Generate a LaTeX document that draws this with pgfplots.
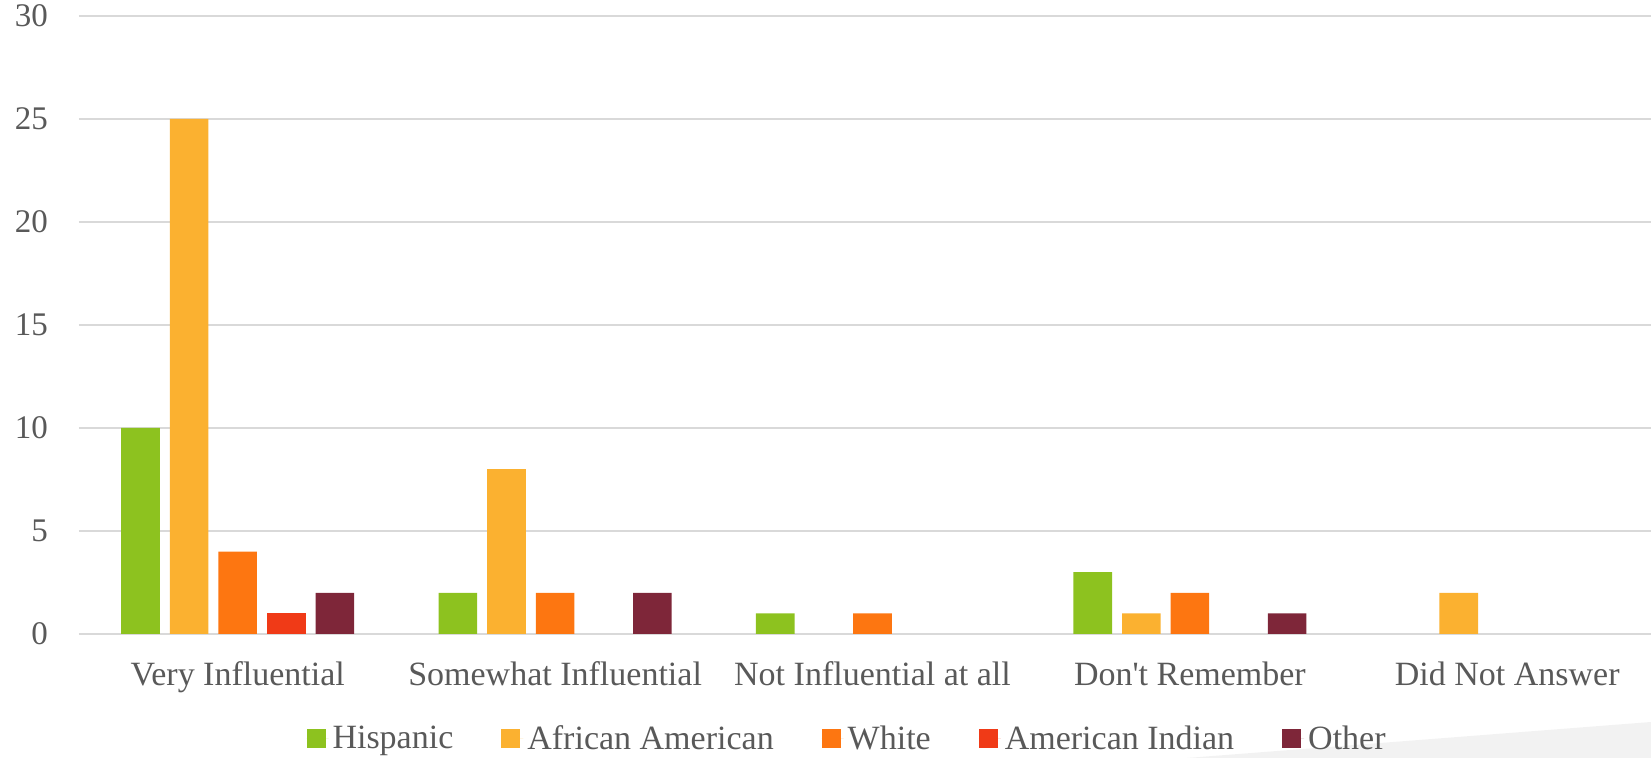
\documentclass[border=0pt]{standalone}
\usepackage{pgfplots}
\pgfplotsset{compat=1.18}
\usepackage{fontspec}
\setmainfont{Liberation Serif}
\definecolor{cH}{HTML}{8DC21F}
\definecolor{cAA}{HTML}{FBB130}
\definecolor{cW}{HTML}{FD7611}
\definecolor{cAI}{HTML}{F03A17}
\definecolor{cO}{HTML}{7E2639}
\definecolor{gridc}{HTML}{D9D9D9}
\definecolor{textc}{HTML}{595959}
\definecolor{deco}{HTML}{F2F2F2}
\begin{document}
\begin{tikzpicture}
\fill[deco] (554pt,-62pt) -- (786pt,-62pt) -- (786pt,-44pt) -- cycle;
\begin{axis}[
  width=793.5pt, height=309pt, scale only axis,
  xmin=-0.5, xmax=4.5, ymin=0, ymax=30,
  ybar=5pt, bar width=19.3pt,
  xtick={0,...,4},
  xticklabels={Very Influential, Somewhat Influential, Not Influential at all, Don\textquotesingle t Remember, Did Not Answer},
  ytick={0,5,...,30},
  ymajorgrids, grid style={draw=gridc, line width=0.8pt},
  axis line style={draw=none}, major tick length=0pt,
  tick label style={font=\fontsize{17}{19}\selectfont, text=textc},
  xticklabel style={anchor=base, yshift=-26pt},
  yticklabel style={font=\fontsize{16.5}{18}\selectfont, xshift=-12pt},
  /pgf/number format/assume math mode=true,
  legend style={at={(0.4846,0)}, anchor=north, yshift=-41.5pt, draw=none, fill=none,
    font=\fontsize{17}{19}\selectfont, text=textc, legend columns=5,
    /tikz/every even column/.append style={column sep=22pt}},
  legend image code/.code={\fill[#1] (0pt,-4.75pt) rectangle (9.5pt,4.75pt); \path (0pt,0pt) -- (11pt,0pt);},
]
\addplot[fill=cH, draw=none] coordinates {(0,10) (1,2) (2,1) (3,3)};
\addplot[fill=cAA, draw=none] coordinates {(0,25) (1,8) (3,1) (4,2)};
\addplot[fill=cW, draw=none] coordinates {(0,4) (1,2) (2,1) (3,2)};
\addplot[fill=cAI, draw=none] coordinates {(0,1)};
\addplot[fill=cO, draw=none] coordinates {(0,2) (1,2) (3,1)};
\legend{Hispanic, African American, White, American Indian, Other}
\end{axis}
\pgfresetboundingbox
\path (-39.5pt,-62pt) rectangle (786pt,317pt);
\end{tikzpicture}
\end{document}
